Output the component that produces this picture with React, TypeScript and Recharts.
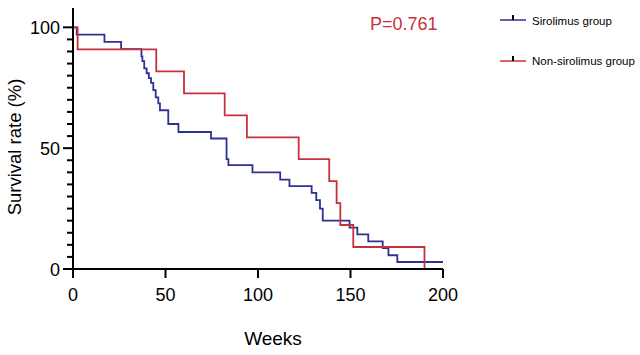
import { Customized, Line, LineChart, XAxis, YAxis } from "recharts";

const sirolimusWeeks = [
  0, 2, 17, 26, 37, 37.5, 38.5, 39.8, 41, 42.2, 43.4, 44.7, 46.1, 47, 51.5, 57,
  74.6, 83, 84, 97, 112, 117, 129, 131.5, 133.5, 135, 149.5, 153.7, 159.6,
  167.4, 170.5, 175.3, 200,
];
const sirolimusSurvival = [
  100, 97, 94, 91, 88, 86, 83, 81, 79, 77, 74, 71, 68.5, 65.7, 60, 56.7, 54,
  45.5, 43, 40, 37, 34.3, 31.5, 28.5, 25, 20, 17.1, 14.3, 11.4, 8.6, 5.7, 2.9,
  2.9,
];

const nonSirolimusWeeks = [0, 2.5, 45, 60, 82, 94, 122, 138.5, 142.5, 144.5, 151.5, 190];
const nonSirolimusSurvival = [100, 90.9, 81.8, 72.7, 63.6, 54.5, 45.5, 36.4, 27.3, 18.2, 9.1, 0];

const xTicks = [0, 50, 100, 150, 200];
const yTicks = [0, 5, 10, 15, 20, 25, 30, 35, 40, 45, 50, 55, 60, 65, 70, 75, 80, 85, 90, 95, 100];
const yLabels = [0, 50, 100];

const seriesNames = ["Sirolimus group", "Non-sirolimus group"];
const pValue = "P=0.761";

const BLUE = "#2e3192";
const RED = "#c8313a";
const FONT = "'Liberation Sans', Arial, Helvetica, sans-serif";

const sirolimus = sirolimusWeeks.map((week, i) => ({ week, survival: sirolimusSurvival[i] }));
const nonSirolimus = nonSirolimusWeeks.map((week, i) => ({ week, survival: nonSirolimusSurvival[i] }));

const YTick = (props: any) => {
  const { x, y, payload } = props;
  const major = yLabels.includes(payload.value);
  return (
    <g>
      <line x1={x - (major ? 10 : 6)} x2={x} y1={y} y2={y} stroke="#000" strokeWidth={2} />
      {major && (
        <text x={x - 13} y={y} dy={6.5} textAnchor="end" fontSize={18} fontFamily={FONT} fill="#000">
          {payload.value}
        </text>
      )}
    </g>
  );
};

const XTick = (props: any) => {
  const { x, y, payload } = props;
  return (
    <g>
      <line x1={x} x2={x} y1={y} y2={y + 9} stroke="#000" strokeWidth={2} />
      <text x={x} y={y + 32} textAnchor="middle" fontSize={18} fontFamily={FONT} fill="#000">
        {payload.value}
      </text>
    </g>
  );
};

const Extras = () => (
  <g fontFamily={FONT}>
    <text x={273} y={345} textAnchor="middle" fontSize={19} fill="#000">
      Weeks
    </text>
    <text
      x={21}
      y={147}
      transform="rotate(-90 21 147)"
      textAnchor="middle"
      fontSize={18.5}
      fill="#000"
    >
      Survival rate (%)
    </text>
    <text x={370} y={30} fontSize={18} fill={RED}>
      {pValue}
    </text>
    <line x1={500} x2={526} y1={20} y2={20} stroke={BLUE} strokeWidth={1.5} />
    <line x1={513} x2={513} y1={15} y2={20} stroke="#000" strokeWidth={2} />
    <text x={532} y={24.5} fontSize={11.5} fill="#000">
      {seriesNames[0]}
    </text>
    <line x1={500} x2={526} y1={61} y2={61} stroke={RED} strokeWidth={1.5} />
    <line x1={513} x2={513} y1={56} y2={61} stroke="#000" strokeWidth={2} />
    <text x={532} y={65} fontSize={11.5} fill="#000">
      {seriesNames[1]}
    </text>
  </g>
);

const App = () => {
  return (
    <div style={{ position: "absolute", left: 0, top: 0, background: "#fff" }}>
      <LineChart width={640} height={355} margin={{ top: 8, right: 197, left: 13, bottom: 56 }}>
        <XAxis
          dataKey="week"
          type="number"
          domain={[0, 200]}
          ticks={xTicks}
          allowDataOverflow
          height={30}
          axisLine={{ stroke: "#000", strokeWidth: 2 }}
          tickLine={false}
          tickSize={0}
          tickMargin={0}
          tick={<XTick />}
          interval={0}
        />
        <YAxis
          type="number"
          domain={[0, 108]}
          ticks={yTicks}
          allowDataOverflow
          width={60}
          axisLine={{ stroke: "#000", strokeWidth: 2 }}
          tickLine={false}
          tickSize={0}
          tickMargin={0}
          tick={<YTick />}
          interval={0}
        />
        <Line
          data={sirolimus}
          dataKey="survival"
          name={seriesNames[0]}
          type="stepAfter"
          stroke={BLUE}
          strokeWidth={1.8}
          dot={false}
          activeDot={false}
          isAnimationActive={false}
        />
        <Line
          data={nonSirolimus}
          dataKey="survival"
          name={seriesNames[1]}
          type="stepAfter"
          stroke={RED}
          strokeWidth={1.8}
          dot={false}
          activeDot={false}
          isAnimationActive={false}
        />
        <Customized component={Extras} />
      </LineChart>
    </div>
  );
};

export default App;
